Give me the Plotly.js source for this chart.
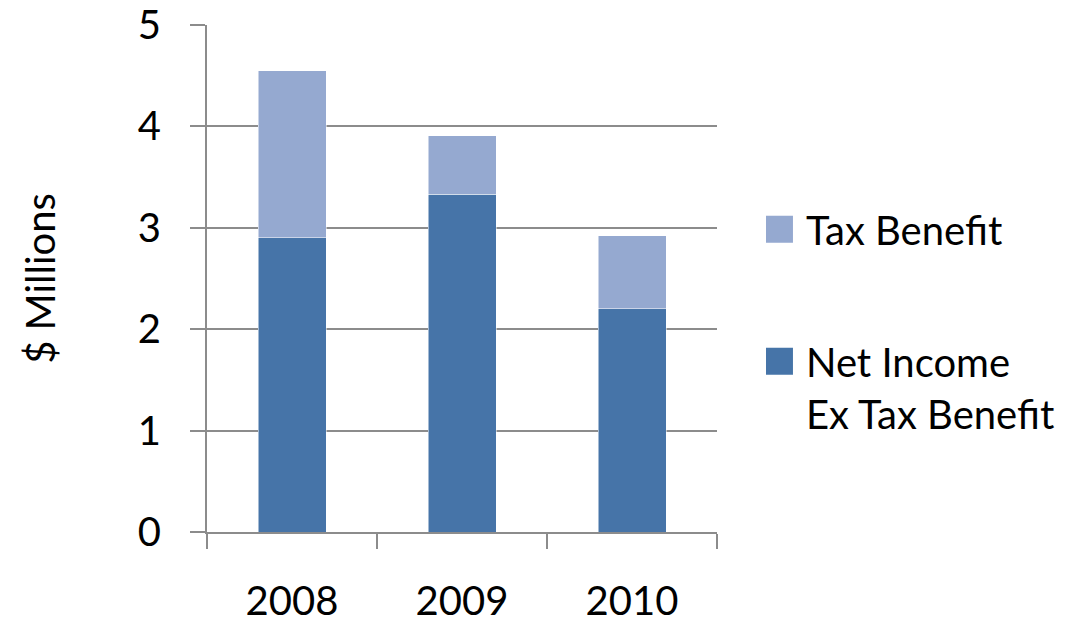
<!DOCTYPE html>
<html>
<head>
<meta charset="utf-8">
<script src="https://cdn.plot.ly/plotly-3.0.1.min.js"></script>
<style>html,body{margin:0;padding:0;background:#fff;}#chart{width:1078px;height:628px;}</style>
</head>
<body>
<div id="chart"></div>
<script>
const years = ["2008", "2009", "2010"];
const netIncomeExTax = [2.90, 3.33, 2.20];
const taxBenefit = [1.65, 0.58, 0.72];
const yTicks = [0, 1, 2, 3, 4, 5];

const darkBlue = "#4674A8";
const lightBlue = "#95A9D0";
const gridGray = "#8C8C8C";

const traces = [
  {
    type: "bar", x: years, y: netIncomeExTax, name: "Net Income<br>Ex Tax Benefit",
    marker: {color: darkBlue, line: {color: "#ffffff", width: 0.5}},
    legendgroup: "net", legendrank: 2, hoverinfo: "x+y"
  },
  {
    type: "bar", x: years, y: taxBenefit, name: "Tax Benefit",
    marker: {color: lightBlue, line: {color: "#ffffff", width: 0.5}},
    legendgroup: "tax", legendrank: 1, hoverinfo: "x+y"
  }
];

const layout = {
  width: 1078, height: 628,
  margin: {l: 207, r: 361, t: 25, b: 95.5},
  paper_bgcolor: "#ffffff", plot_bgcolor: "#ffffff",
  font: {family: "Lato, 'Open Sans', sans-serif", size: 40, color: "#000000"},
  barmode: "stack",
  bargap: 0.6,
  showlegend: true,
  legend: {
    x: 1.096, xanchor: "left", y: 0.661, yanchor: "top",
    traceorder: "grouped", tracegroupgap: 77,
    font: {size: 40, color: "#000000"},
    bgcolor: "rgba(0,0,0,0)"
  },
  xaxis: {
    type: "category", range: [-0.5, 2.5],
    showline: true, linecolor: gridGray, linewidth: 2,
    ticks: "outside", tickson: "boundaries", ticklen: 15, tickwidth: 2, tickcolor: gridGray,
    showgrid: false, ticklabelstandoff: 33, automargin: false,
    tickfont: {size: 40}
  },
  yaxis: {
    range: [0, 5], tickvals: yTicks, ticktext: yTicks.map(String),
    showline: true, linecolor: gridGray, linewidth: 2,
    showgrid: true, gridcolor: gridGray, gridwidth: 2,
    ticks: "outside", ticklen: 15, tickwidth: 2, tickcolor: gridGray,
    ticklabelstandoff: 21, zeroline: false, automargin: false,
    tickfont: {size: 40},
    title: {text: "$ Millions", font: {size: 40}, standoff: 70}
  }
};

Plotly.newPlot("chart", traces, layout, {displayModeBar: false, staticPlot: true}).then(function(gd){
  document.querySelectorAll("#chart .legend .traces").forEach(function(item){
    const txt = item.querySelector("text.legendtext");
    const multi = txt && txt.querySelectorAll("tspan.line").length > 1;
    const dy = multi ? -26 : 0;
    item.querySelectorAll(".legendpoints path").forEach(function(p){
      p.setAttribute("d", "M7," + (13.5 + dy) + "H-20V" + (-13.5 + dy) + "H7Z");
      p.style.strokeWidth = "0";
    });
  });
});
</script>
</body>
</html>
